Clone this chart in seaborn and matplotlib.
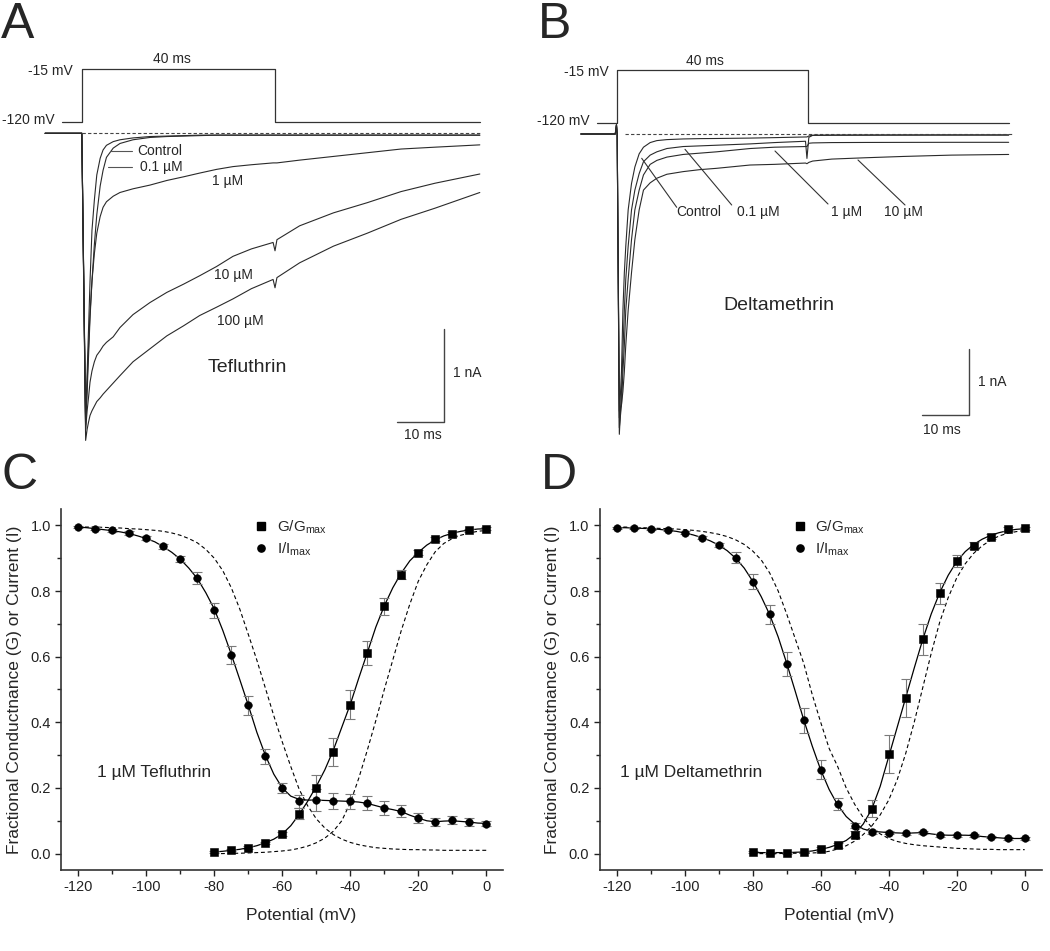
import matplotlib
matplotlib.use("Agg")
import matplotlib.pyplot as plt
from matplotlib.lines import Line2D
from matplotlib.ticker import MultipleLocator
import seaborn as sns

sns.set_style("white")
plt.rcParams['font.family'] = ['Liberation Sans', 'DejaVu Sans']
plt.rcParams['axes.unicode_minus'] = False
plt.rcParams['mathtext.fontset'] = 'custom'
plt.rcParams['mathtext.rm'] = 'Liberation Sans'
plt.rcParams['mathtext.default'] = 'rm'

# ---- Panel A : tefluthrin current traces (time ms, current nA) ----
a_time = [-7.7, -0.1, 0.69, 1.0, 1.3, 1.6, 2.0, 2.5, 3.0, 3.7, 4.3, 5.0, 6.4, 7.8, 10.5, 14.0,
          17.5, 21.0, 24.3, 27.8, 31.2, 35.0, 39.5, 39.9, 40.3, 45.0, 52.0, 59.0, 66.0, 73.0, 82.3]
a_control = [0.0, 0.0, -3.1, -2.6, -2.1, -1.6, -1.05, -0.72, -0.45, -0.27, -0.18, -0.13, -0.09, -0.07,
             -0.05, -0.035, -0.03, -0.025, -0.02, -0.02, -0.02, -0.02, -0.02, -0.02, -0.02, -0.02,
             -0.02, -0.02, -0.02, -0.02, -0.02]
a_01uM = [0.0, 0.0, -3.2, -2.7, -2.3, -1.95, -1.6, -1.2, -0.88, -0.57, -0.4, -0.26, -0.16, -0.11,
          -0.07, -0.045, -0.035, -0.03, -0.025, -0.02, -0.02, -0.02, -0.02, -0.02, -0.02, -0.02,
          -0.02, -0.02, -0.02, -0.02, -0.02]
a_1uM = [0.0, 0.0, -3.15, -2.8, -2.4, -2.0, -1.6, -1.3, -1.08, -0.9, -0.8, -0.74, -0.68, -0.64,
         -0.6, -0.56, -0.51, -0.47, -0.43, -0.39, -0.36, -0.34, -0.32, -0.32, -0.32, -0.29, -0.25,
         -0.21, -0.17, -0.15, -0.125]
a_10uM = [0.0, 0.0, -3.2, -3.0, -2.85, -2.69, -2.57, -2.47, -2.4, -2.35, -2.3, -2.26, -2.2, -2.1,
          -1.96, -1.83, -1.72, -1.63, -1.54, -1.44, -1.33, -1.25, -1.18, -1.27, -1.15, -1.0, -0.86,
          -0.75, -0.63, -0.54, -0.44]
a_100uM = [0.0, 0.0, -3.32, -3.2, -3.12, -3.05, -3.0, -2.95, -2.9, -2.86, -2.82, -2.78, -2.7, -2.62,
           -2.47, -2.33, -2.19, -2.08, -1.97, -1.88, -1.79, -1.68, -1.58, -1.67, -1.56, -1.4, -1.22,
           -1.08, -0.93, -0.81, -0.64]

# ---- Panel B : deltamethrin current traces ----
b_time = [-7.5, -0.3, -0.05, 0.1, 0.55, 1.0, 1.3, 1.6, 1.9, 2.4, 3.1, 3.8, 4.7, 5.6, 7.0, 8.4,
          10.5, 13.9, 17.4, 20.9, 27.9, 33.0, 39.5, 39.8, 40.2, 41.0, 45.0, 52.0, 60.0, 70.0, 82.0]
b_control = [0.0, 0.0, 0.14, 0.0, -4.3, -3.6, -2.67, -2.1, -1.7, -1.15, -0.75, -0.5, -0.3, -0.2,
             -0.13, -0.1, -0.085, -0.075, -0.07, -0.068, -0.062, -0.055, -0.045, -0.045, -0.03,
             -0.02, -0.018, -0.017, -0.016, -0.015, -0.015]
b_01uM = [0.0, 0.0, 0.14, 0.0, -4.55, -3.9, -3.3, -2.67, -2.2, -1.7, -1.15, -0.85, -0.6, -0.42,
          -0.32, -0.27, -0.22, -0.19, -0.18, -0.17, -0.15, -0.13, -0.11, -0.37, -0.05, -0.02,
          -0.017, -0.016, -0.015, -0.015, -0.015]
b_1uM = [0.0, 0.0, 0.14, 0.0, -4.45, -4.1, -3.6, -3.2, -2.67, -2.2, -1.6, -1.15, -0.85, -0.62,
         -0.46, -0.4, -0.35, -0.31, -0.29, -0.27, -0.22, -0.2, -0.19, -0.19, -0.14, -0.135, -0.13,
         -0.128, -0.127, -0.126, -0.126]
b_10uM = [0.0, 0.0, 0.14, 0.0, -4.2, -4.1, -3.9, -3.6, -3.2, -2.67, -2.1, -1.6, -1.15, -0.85,
          -0.74, -0.67, -0.61, -0.57, -0.54, -0.52, -0.47, -0.46, -0.44, -0.45, -0.43, -0.41,
          -0.38, -0.36, -0.34, -0.32, -0.31]

# voltage protocol (ms, mV)
prot_a_t = [-4.2, 0, 0, 40, 40, 82.3]
prot_b_t = [-4.1, 0, 0, 40, 40, 82.0]
prot_v = [-120, -120, -15, -15, -120, -120]

# ---- Panels C / D : measured points (mV) ----
v_inact = [-120, -115, -110, -105, -100, -95, -90, -85, -80, -75, -70, -65, -60, -55, -50, -45,
           -40, -35, -30, -25, -20, -15, -10, -5, 0]
v_act = [-80, -75, -70, -65, -60, -55, -50, -45, -40, -35, -30, -25, -20, -15, -10, -5, 0]

c_inact = [0.995, 0.99, 0.985, 0.977, 0.962, 0.936, 0.898, 0.84, 0.741, 0.606, 0.452, 0.296, 0.201,
           0.16, 0.164, 0.16, 0.159, 0.154, 0.139, 0.13, 0.109, 0.096, 0.102, 0.096, 0.091]
c_inact_err = [0.004, 0.004, 0.004, 0.005, 0.006, 0.007, 0.01, 0.018, 0.024, 0.028, 0.029, 0.022,
               0.015, 0.02, 0.034, 0.024, 0.024, 0.021, 0.02, 0.017, 0.015, 0.012, 0.013, 0.012, 0.008]
c_act = [0.005, 0.01, 0.018, 0.032, 0.059, 0.122, 0.2, 0.31, 0.454, 0.612, 0.753, 0.85, 0.917,
         0.959, 0.975, 0.985, 0.99]
c_act_err = [0.003, 0.003, 0.004, 0.004, 0.006, 0.018, 0.038, 0.042, 0.044, 0.037, 0.026, 0.014,
             0.008, 0.006, 0.005, 0.004, 0.004]

d_inact = [0.993, 0.993, 0.989, 0.985, 0.978, 0.963, 0.941, 0.902, 0.828, 0.729, 0.578, 0.406, 0.255,
           0.151, 0.085, 0.067, 0.064, 0.062, 0.065, 0.056, 0.056, 0.056, 0.05, 0.046, 0.046]
d_inact_err = [0.003, 0.003, 0.003, 0.003, 0.004, 0.005, 0.006, 0.016, 0.023, 0.029, 0.037, 0.038,
               0.029, 0.018, 0.008, 0.006, 0.005, 0.005, 0.005, 0.004, 0.004, 0.004, 0.004, 0.004, 0.004]
d_act = [0.004, 0.003, 0.002, 0.005, 0.014, 0.025, 0.058, 0.137, 0.303, 0.474, 0.653, 0.793, 0.892,
         0.938, 0.966, 0.989, 0.991]
d_act_err = [0.003, 0.003, 0.003, 0.004, 0.005, 0.008, 0.01, 0.026, 0.058, 0.059, 0.048, 0.033, 0.019,
             0.01, 0.008, 0.005, 0.005]

# ---- fitted curves (2.5 mV grid) ----
fit_v_inact = [-120, -117.5, -115, -112.5, -110, -107.5, -105, -102.5, -100, -97.5, -95, -92.5,
               -90, -87.5, -85, -82.5, -80, -77.5, -75, -72.5, -70, -67.5, -65, -62.5, -60, -57.5,
               -55, -52.5, -50, -47.5, -45, -42.5, -40, -37.5, -35, -32.5, -30, -27.5, -25, -22.5,
               -20, -17.5, -15, -12.5, -10, -7.5, -5, -2.5, 0]
fit_v_act = [-80, -77.5, -75, -72.5, -70, -67.5, -65, -62.5, -60, -57.5, -55, -52.5, -50, -47.5,
             -45, -42.5, -40, -37.5, -35, -32.5, -30, -27.5, -25, -22.5, -20, -17.5, -15, -12.5,
             -10, -7.5, -5, -2.5, 0]

c_inact_fit = [0.995, 0.993, 0.99, 0.987, 0.984, 0.98, 0.975, 0.968, 0.96, 0.95, 0.935, 0.918, 0.897,
               0.87, 0.838, 0.795, 0.745, 0.68, 0.607, 0.53, 0.452, 0.37, 0.3, 0.242, 0.2, 0.175, 0.165,
               0.163, 0.163, 0.162, 0.161, 0.16, 0.159, 0.157, 0.153, 0.146, 0.139, 0.134, 0.128, 0.117,
               0.108, 0.1, 0.097, 0.099, 0.1, 0.098, 0.096, 0.093, 0.092]
c_inact_ctrl = [0.995, 0.995, 0.995, 0.994, 0.993, 0.992, 0.99, 0.989, 0.987, 0.985, 0.982, 0.977,
                0.97, 0.96, 0.947, 0.927, 0.9, 0.862, 0.81, 0.745, 0.668, 0.59, 0.505, 0.42, 0.34,
                0.265, 0.195, 0.145, 0.106, 0.078, 0.058, 0.044, 0.034, 0.027, 0.022, 0.018, 0.016,
                0.014, 0.013, 0.012, 0.012, 0.011, 0.011, 0.01, 0.01, 0.01, 0.01, 0.01, 0.01]
c_act_fit = [0.005, 0.007, 0.01, 0.013, 0.018, 0.024, 0.033, 0.044, 0.06, 0.085, 0.12, 0.16, 0.205,
             0.255, 0.315, 0.385, 0.455, 0.535, 0.612, 0.69, 0.755, 0.81, 0.855, 0.892, 0.918, 0.94,
             0.956, 0.968, 0.976, 0.982, 0.986, 0.989, 0.99]
c_act_ctrl = [0.0, 0.0, 0.001, 0.001, 0.002, 0.003, 0.004, 0.006, 0.008, 0.011, 0.016, 0.023, 0.033,
              0.047, 0.068, 0.1, 0.155, 0.23, 0.315, 0.405, 0.5, 0.59, 0.68, 0.76, 0.83, 0.88, 0.92,
              0.945, 0.96, 0.97, 0.977, 0.982, 0.985]

d_inact_fit = [0.993, 0.993, 0.992, 0.991, 0.99, 0.988, 0.985, 0.982, 0.977, 0.971, 0.963, 0.953, 0.94,
               0.923, 0.9, 0.87, 0.83, 0.783, 0.728, 0.66, 0.58, 0.495, 0.408, 0.328, 0.255, 0.195,
               0.148, 0.113, 0.09, 0.075, 0.068, 0.066, 0.064, 0.063, 0.062, 0.063, 0.064, 0.06, 0.057,
               0.056, 0.056, 0.056, 0.055, 0.052, 0.05, 0.048, 0.046, 0.046, 0.046]
d_inact_ctrl = [0.995, 0.995, 0.994, 0.993, 0.992, 0.991, 0.99, 0.989, 0.987, 0.985, 0.982, 0.978,
                0.973, 0.966, 0.956, 0.942, 0.922, 0.895, 0.855, 0.8, 0.73, 0.655, 0.58, 0.485, 0.4,
                0.32, 0.265, 0.2, 0.15, 0.11, 0.08, 0.06, 0.046, 0.037, 0.031, 0.027, 0.024, 0.022,
                0.02, 0.018, 0.016, 0.015, 0.014, 0.013, 0.013, 0.012, 0.012, 0.012, 0.012]
d_act_fit = [0.004, 0.003, 0.003, 0.003, 0.003, 0.004, 0.005, 0.008, 0.013, 0.019, 0.028, 0.04, 0.06,
             0.09, 0.135, 0.205, 0.295, 0.385, 0.475, 0.565, 0.652, 0.73, 0.795, 0.848, 0.89, 0.92,
             0.942, 0.958, 0.97, 0.978, 0.984, 0.988, 0.99]
d_act_ctrl = [0.0, 0.0, 0.0, 0.0, 0.001, 0.001, 0.001, 0.002, 0.003, 0.007, 0.014, 0.024, 0.038, 0.058,
              0.084, 0.118, 0.163, 0.225, 0.305, 0.4, 0.505, 0.61, 0.705, 0.78, 0.84, 0.883, 0.915,
              0.938, 0.955, 0.968, 0.976, 0.981, 0.985]

# ---------------------------------------------------------------------------
W, H = 1050, 951
fig = plt.figure(figsize=(W / 100, H / 100), dpi=100)


def rect(x0, y0, x1, y1):
    return [x0 / W, 1 - y1 / H, (x1 - x0) / W, (y1 - y0) / H]


def ftext(x, y, s, size=10, ha='center', **kw):
    fig.text(x / W, 1 - y / H, s, ha=ha, va='center', fontsize=size, **kw)


def fline(xs, ys, color='#333333', lw=1.0):
    fig.add_artist(Line2D([x / W for x in xs], [1 - y / H for y in ys], color=color, lw=lw))


def trace_panel(box, t0, ppms, base, ppna, p120, p15, times, traces, prot_t, dash_from, dash_to):
    x0, y0, x1, y1 = box
    xlim = ((x0 - t0) / ppms, (x1 - t0) / ppms)
    ax = fig.add_axes(rect(*box))
    for tr in traces:
        sns.lineplot(x=times, y=tr, ax=ax, color='#2a2a2a', lw=0.8, estimator=None, sort=False)
    ax.hlines(0, dash_from, dash_to, colors='#444444', lw=0.8, linestyles=(0, (3, 2)))
    ax.set_xlim(xlim)
    ax.set_ylim(-(y1 - base) / ppna, -(y0 - base) / ppna)
    ax.axis('off')
    axp = fig.add_axes(rect(*box))
    ppv = (p120 - p15) / 105.0
    sns.lineplot(x=prot_t, y=prot_v, ax=axp, color='#333333', lw=0.9, estimator=None, sort=False)
    axp.set_xlim(xlim)
    axp.set_ylim(-120 - (y1 - p120) / ppv, -120 + (p120 - y0) / ppv)
    axp.axis('off')


trace_panel((25, 40, 505, 450), 82.3, 4.83, 133.3, 92.5, 122, 69, a_time,
            [a_control, a_01uM, a_1uM, a_10uM, a_100uM], prot_a_t, 0, 82.3)
trace_panel((565, 40, 1045, 450), 616.7, 4.78, 134, 66, 123, 70, b_time,
            [b_control, b_01uM, b_1uM, b_10uM], prot_b_t, 1.7, 82.9)

# panel A annotations
ftext(172, 59, '40 ms')
ftext(50, 71, '-15 mV')
ftext(28, 120, '-120 mV')
ftext(137, 151, 'Control', ha='left')
ftext(140, 167, '0.1 \u00b5M', ha='left')
fline([110, 132], [151, 151], color='#555555', lw=0.8)
fline([108, 132], [167, 167], color='#555555', lw=0.8)
ftext(228, 181, '1 \u00b5M')
ftext(233, 275, '10 \u00b5M')
ftext(240, 321, '100 \u00b5M')
ftext(247, 368, 'Tefluthrin', size=14)
fline([396.7, 444.3, 444.3], [421.7, 421.7, 329.3], color='#444444', lw=1.0)
ftext(467, 373, '1 nA')
ftext(423, 435, '10 ms')

# panel B annotations
ftext(705, 61, '40 ms')
ftext(586, 72, '-15 mV')
ftext(563, 121, '-120 mV')
ftext(699, 212, 'Control')
ftext(758, 212, '0.1 \u00b5M')
ftext(847, 212, '1 \u00b5M')
ftext(903.5, 212, '10 \u00b5M')
fline([641.7, 676.7], [158.3, 207.3], lw=0.8)
fline([685, 731.7], [149.3, 205], lw=0.8)
fline([775, 828], [151, 204], lw=0.8)
fline([858, 905], [160, 205], lw=0.8)
ftext(779, 306, 'Deltamethrin', size=14)
fline([921.7, 969.3, 969.3], [415, 415, 349.3], color='#444444', lw=1.0)
ftext(992, 382, '1 nA')
ftext(942, 430, '10 ms')


def iv_panel(box, inact, inact_err, act, act_err, inact_fit, inact_ctrl, act_fit, act_ctrl, label, label_x):
    ax = fig.add_axes(rect(*box))
    sns.lineplot(x=fit_v_inact, y=inact_ctrl, ax=ax, color='k', lw=0.8, linestyle=(0, (3.5, 2.5)),
                 estimator=None, sort=False)
    sns.lineplot(x=fit_v_act, y=act_ctrl, ax=ax, color='k', lw=0.8, linestyle=(0, (3.5, 2.5)),
                 estimator=None, sort=False)
    sns.lineplot(x=fit_v_inact, y=inact_fit, ax=ax, color='k', lw=0.9, estimator=None, sort=False)
    sns.lineplot(x=fit_v_act, y=act_fit, ax=ax, color='k', lw=0.9, estimator=None, sort=False)
    ax.errorbar(v_inact, inact, yerr=inact_err, fmt='none', ecolor='#7a7a7a', elinewidth=0.8,
                capsize=3.5, capthick=0.8, zorder=3)
    ax.errorbar(v_act, act, yerr=act_err, fmt='none', ecolor='#7a7a7a', elinewidth=0.8,
                capsize=3.5, capthick=0.8, zorder=3)
    sns.scatterplot(x=v_act, y=act, ax=ax, marker='s', s=30, color='k', edgecolor='k',
                    linewidth=0.4, zorder=4)
    sns.scatterplot(x=v_inact, y=inact, ax=ax, marker='o', s=30, color='k', edgecolor='k',
                    linewidth=0.4, zorder=4)
    ax.set_xlim(-125, 5)
    ax.set_ylim(-0.05, 1.05)
    ax.xaxis.set_major_locator(MultipleLocator(20))
    ax.xaxis.set_minor_locator(MultipleLocator(10))
    ax.yaxis.set_major_locator(MultipleLocator(0.2))
    ax.yaxis.set_minor_locator(MultipleLocator(0.1))
    ax.tick_params(which='both', direction='out', width=1.0, colors='#222222', labelsize=10.5,
                   bottom=True, left=True)
    ax.tick_params(which='major', length=4.5, pad=3)
    ax.tick_params(which='minor', length=3)
    sns.despine(ax=ax)
    for sp in ['left', 'bottom']:
        ax.spines[sp].set_linewidth(1.2)
        ax.spines[sp].set_color('#333333')
    ax.set_xlabel('Potential (mV)', fontsize=12.5)
    ax.xaxis.set_label_coords(0.542, -0.105)
    ax.set_ylabel('Fractional Conductnance (G) or Current (I)', fontsize=12.5, labelpad=6)
    ax.text(label_x, 0.247, label, fontsize=12.5, va='center', ha='left')
    handles = [Line2D([], [], marker='s', ls='none', color='k', ms=5.2),
               Line2D([], [], marker='o', ls='none', color='k', ms=5.2)]
    ax.legend(handles, ['G/G$_{max}$', 'I/I$_{max}$'], loc='upper left', bbox_to_anchor=(0.425, 0.99),
              frameon=False, fontsize=11, handlelength=0.8, handletextpad=0.6, borderaxespad=0,
              labelspacing=0.3)
    return ax


iv_panel((61.3, 509, 503.3, 870), c_inact, c_inact_err, c_act, c_act_err, c_inact_fit, c_inact_ctrl,
         c_act_fit, c_act_ctrl, '1 \u00b5M Tefluthrin', -114.6)
iv_panel((599.7, 509, 1041.7, 870), d_inact, d_inact_err, d_act, d_act_err, d_inact_fit, d_inact_ctrl,
         d_act_fit, d_act_ctrl, '1 \u00b5M Deltamethrin', -119)

# panel letters
for letter, x, y in [('A', 18, 25), ('B', 555, 25), ('C', 20, 476), ('D', 559, 476)]:
    ftext(x, y, letter, size=36)

fig.savefig('out.png', dpi=100)
